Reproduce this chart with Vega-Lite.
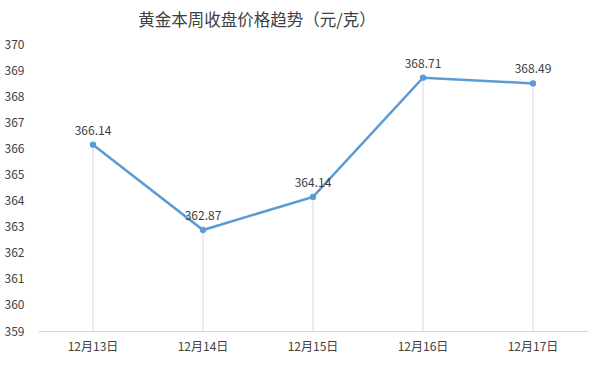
{
  "$schema": "https://vega.github.io/schema/vega-lite/v6.json",
  "width": 550,
  "height": 287,
  "autosize": {"type": "none"},
  "padding": {"left": 38, "top": 44, "right": 12, "bottom": 36},
  "background": "white",
  "title": {
    "text": "黄金本周收盘价格趋势（元/克）",
    "font": "Noto Sans CJK SC",
    "fontSize": 16.5,
    "fontWeight": "normal",
    "color": "#404040",
    "anchor": "middle",
    "frame": "group",
    "dx": -56,
    "offset": 9
  },
  "data": {
    "values": [
      {"date": "12月13日", "price": 366.14},
      {"date": "12月14日", "price": 362.87},
      {"date": "12月15日", "price": 364.14},
      {"date": "12月16日", "price": 368.71},
      {"date": "12月17日", "price": 368.49}
    ]
  },
  "config": {
    "view": {"stroke": null},
    "font": "Noto Sans CJK SC"
  },
  "encoding": {
    "x": {
      "field": "date",
      "type": "nominal",
      "sort": null,
      "scale": {"paddingInner": 0, "paddingOuter": 0},
      "axis": {
        "title": null,
        "labelAngle": 0,
        "ticks": false,
        "domainColor": "#d9d9d9",
        "domainWidth": 1,
        "labelPadding": 10,
        "labelFontSize": 12,
        "labelColor": "#404040",
        "labelFont": "Noto Sans CJK SC"
      }
    },
    "y": {
      "field": "price",
      "type": "quantitative",
      "scale": {"domain": [359, 370], "nice": false, "zero": false},
      "axis": {
        "title": null,
        "values": [359, 360, 361, 362, 363, 364, 365, 366, 367, 368, 369, 370],
        "grid": false,
        "domain": false,
        "ticks": false,
        "labelPadding": 14,
        "labelFontSize": 12,
        "labelColor": "#404040",
        "labelFont": "Noto Sans CJK SC"
      }
    }
  },
  "layer": [
    {
      "mark": {"type": "rule", "color": "#d9d9d9", "strokeWidth": 1},
      "encoding": {"y2": {"datum": 359}}
    },
    {
      "mark": {"type": "line", "color": "#5b9bd5", "strokeWidth": 2.5}
    },
    {
      "mark": {"type": "point", "filled": true, "color": "#5b9bd5", "size": 40, "opacity": 1}
    },
    {
      "mark": {"type": "text", "dy": -14, "fontSize": 12, "color": "#404040", "font": "Noto Sans CJK SC"},
      "encoding": {"text": {"field": "price", "type": "quantitative", "format": ".2f"}}
    }
  ]
}
